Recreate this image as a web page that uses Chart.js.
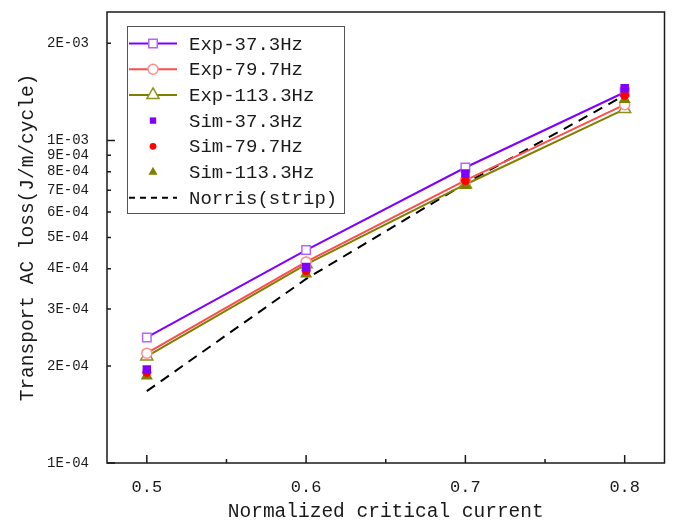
<!DOCTYPE html>
<html>
<head>
<meta charset="utf-8">
<script src="https://cdn.jsdelivr.net/npm/chart.js@4/dist/chart.umd.min.js"></script>
<style>
  html, body { margin: 0; padding: 0; background: #fff; }
  #wrap { width: 673px; height: 526px; position: relative; }
</style>
</head>
<body>
<div id="wrap"><canvas id="c"></canvas></div>
<script>
const FONT = '"Liberation Mono", "DejaVu Sans Mono", monospace';
const INK = '#1a1a1a';

// normalized critical current
const xValues = [0.5, 0.6, 0.7, 0.8];
const xTickValues = [0.5, 0.6, 0.7, 0.8];
const xMinorTicks = [0.55, 0.65, 0.75];
const yTickValues = [1e-4, 2e-4, 3e-4, 4e-4, 5e-4, 6e-4, 7e-4, 8e-4, 9e-4, 1e-3, 2e-3];
const yMajorTicks = [1e-4, 1e-3];

// transport AC loss, J/m/cycle
const exp37 = [2.45e-4, 4.57e-4, 8.24e-4, 1.41e-3];
const exp79 = [2.19e-4, 4.20e-4, 7.52e-4, 1.29e-3];
const exp113 = [2.14e-4, 4.13e-4, 7.30e-4, 1.25e-3];
const sim37 = [1.95e-4, 4.05e-4, 7.90e-4, 1.45e-3];
const sim79 = [1.91e-4, 3.95e-4, 7.50e-4, 1.38e-3];
const sim113 = [1.86e-4, 3.85e-4, 7.25e-4, 1.34e-3];
const norris = [1.67e-4, 3.72e-4, 7.35e-4, 1.38e-3];

const pts = arr => arr.map((v, i) => ({ x: xValues[i], y: v }));

function fmtExp(v) {
  const e = Math.floor(Math.log10(v) + 1e-9);
  const m = Math.round(v / Math.pow(10, e));
  return m + 'E-' + String(-e).padStart(2, '0');
}

function expSeries(label, data, line, edge, style, radius, order) {
  return {
    label, data: pts(data), parsing: false, order,
    borderColor: line, borderWidth: 2,
    pointStyle: style, pointRadius: radius, pointHoverRadius: radius,
    pointBackgroundColor: '#fff', pointBorderColor: edge, pointBorderWidth: 1.5,
    showLine: true, fill: false, tension: 0,
  };
}
function simSeries(label, data, color, style, radius, order) {
  return {
    label, data: pts(data), parsing: false, order,
    showLine: false, borderColor: color,
    pointStyle: style, pointRadius: radius, pointHoverRadius: radius,
    pointBackgroundColor: color, pointBorderColor: color, pointBorderWidth: 0,
  };
}

const datasets = [
  expSeries('Exp-37.3Hz', exp37, '#8000ff', '#b366ff', 'rect', 6, 4),
  expSeries('Exp-79.7Hz', exp79, '#ff4d4d', '#ff8c8c', 'circle', 5, 5),
  expSeries('Exp-113.3Hz', exp113, '#808000', '#8f8f1a', 'triangle', 7, 6),
  simSeries('Sim-37.3Hz', sim37, '#8000ff', 'rect', 6, 1),
  simSeries('Sim-79.7Hz', sim79, '#ff0000', 'circle', 4.5, 2),
  simSeries('Sim-113.3Hz', sim113, '#808000', 'triangle', 7, 3),
  {
    label: 'Norris(strip)', data: pts(norris), parsing: false, order: 7,
    borderColor: '#000', borderWidth: 2, borderDash: [10, 7],
    pointRadius: 0, showLine: true, fill: false, tension: 0,
  },
];

function marker(ctx, style, x, y, r, fillC, edgeC, lw) {
  ctx.beginPath();
  if (style === 'rect') {
    const s = Math.SQRT1_2 * r;
    ctx.rect(x - s, y - s, 2 * s, 2 * s);
  } else if (style === 'circle') {
    ctx.arc(x, y, r, 0, Math.PI * 2);
  } else if (style === 'triangle') {
    ctx.moveTo(x, y - r);
    ctx.lineTo(x + r * 0.866, y + r * 0.5);
    ctx.lineTo(x - r * 0.866, y + r * 0.5);
    ctx.closePath();
  }
  ctx.fillStyle = fillC;
  ctx.fill();
  if (lw > 0) { ctx.lineWidth = lw; ctx.strokeStyle = edgeC; ctx.stroke(); }
}

// frame + inward ticks, Origin style
const framePlugin = {
  id: 'frame-ticks',
  afterDraw(chart) {
    const { ctx, chartArea: a } = chart;
    const xs = chart.scales.x, ys = chart.scales.y;
    ctx.save();
    ctx.strokeStyle = INK;
    ctx.lineWidth = 1.5;
    ctx.strokeRect(a.left, a.top, a.right - a.left, a.bottom - a.top);
    ctx.beginPath();
    for (const v of xTickValues) {
      const px = xs.getPixelForValue(v);
      ctx.moveTo(px, a.bottom); ctx.lineTo(px, a.bottom - 8);
    }
    for (const v of xMinorTicks) {
      const px = xs.getPixelForValue(v);
      ctx.moveTo(px, a.bottom); ctx.lineTo(px, a.bottom - 4);
    }
    for (const v of yTickValues) {
      const py = ys.getPixelForValue(v);
      const len = yMajorTicks.includes(v) ? 8 : 4;
      ctx.moveTo(a.left, py); ctx.lineTo(a.left + len, py);
    }
    ctx.stroke();
    ctx.restore();
  },
};

// boxed legend with line + marker samples
const legendPlugin = {
  id: 'boxed-legend',
  afterDraw(chart) {
    const ctx = chart.ctx;
    const box = { x: 127, y: 26, w: 217, h: 187 };
    ctx.save();
    ctx.fillStyle = '#fff';
    ctx.fillRect(box.x, box.y, box.w, box.h);
    ctx.strokeStyle = '#555';
    ctx.lineWidth = 1;
    ctx.strokeRect(box.x + 0.5, box.y + 0.5, box.w, box.h);
    ctx.font = '19px ' + FONT;
    ctx.textBaseline = 'middle';
    chart.data.datasets.forEach((ds, i) => {
      const y = 43.5 + i * 25.7;
      const x0 = 129, x1 = 177, xm = 153;
      if (ds.showLine) {
        ctx.beginPath();
        ctx.strokeStyle = ds.borderColor;
        ctx.lineWidth = ds.borderWidth;
        ctx.setLineDash(ds.pointRadius ? [] : [6, 5]);
        ctx.moveTo(x0, y); ctx.lineTo(x1, y);
        ctx.stroke();
        ctx.setLineDash([]);
      }
      if (ds.pointRadius) {
        const r = ds.showLine ? ds.pointRadius : ds.pointRadius * 0.75;
        marker(ctx, ds.pointStyle, xm, y, r, ds.pointBackgroundColor, ds.pointBorderColor, ds.pointBorderWidth);
      }
      ctx.fillStyle = INK;
      ctx.fillText(ds.label, 189, y + 1);
    });
    ctx.restore();
  },
};

new Chart(document.getElementById('c'), {
  type: 'scatter',
  data: { datasets },
  options: {
    responsive: true,
    maintainAspectRatio: false,
    animation: false,
    events: [],
    layout: { padding: { top: 12, right: 7, left: 0, bottom: 0 } },
    scales: {
      x: {
        type: 'linear',
        min: 0.475,
        max: 0.825,
        afterBuildTicks: s => { s.ticks = xTickValues.map(v => ({ value: v })); },
        afterFit: s => { s.height = 63; s.paddingLeft = 0; s.paddingRight = 0; },
        ticks: {
          color: INK, padding: 14, autoSkip: false, maxRotation: 0,
          font: { family: FONT, size: 17 },
          callback: v => Number(v).toFixed(1),
        },
        grid: { display: false, drawTicks: false },
        border: { display: false },
        title: {
          display: true, text: 'Normalized critical current', color: INK,
          font: { family: FONT, size: 19.5 }, padding: { top: 0, bottom: 2 },
        },
      },
      y: {
        type: 'logarithmic',
        min: 1e-4,
        max: 2.5e-3,
        afterBuildTicks: s => { s.ticks = yTickValues.map(v => ({ value: v })); },
        afterFit: s => { s.width = 107; s.paddingTop = 0; s.paddingBottom = 0; },
        ticks: {
          color: INK, padding: 18, autoSkip: false,
          font: { family: FONT, size: 14 },
          callback: v => fmtExp(v),
        },
        grid: { display: false, drawTicks: false },
        border: { display: false },
        title: {
          display: true, text: 'Transport AC loss(J/m/cycle)', color: INK,
          font: { family: FONT, size: 19.5 }, padding: { top: 16, bottom: 0 },
        },
      },
    },
    plugins: {
      legend: { display: false },
      tooltip: { enabled: false },
    },
  },
  plugins: [framePlugin, legendPlugin],
});
</script>
</body>
</html>
